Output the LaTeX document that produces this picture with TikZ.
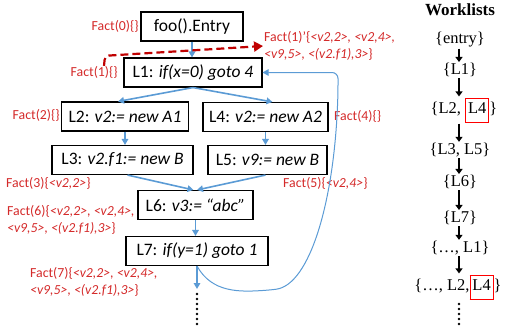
\documentclass[tikz,border=0pt]{standalone}
\usepackage{fontspec}
\setmainfont{Carlito}
\newfontfamily\wlfont{Liberation Serif}
\usetikzlibrary{arrows.meta}
\definecolor{flowblue}{HTML}{5B9BD5}
\definecolor{factred}{HTML}{D42A2A}
\definecolor{dashred}{HTML}{C00000}
\newcommand{\hlbox}[1]{{\setlength{\fboxsep}{2pt}\setlength{\fboxrule}{0.9pt}\fcolorbox{red}{white}{\strut#1}}}

\begin{document}
\begin{tikzpicture}[x=1pt, y=-1pt,
	stmt/.style={draw, line width=1.1pt, minimum height=29pt, inner xsep=3pt, inner ysep=0pt, font=\fontsize{17.5}{20}\selectfont},
	fact/.style={text=factred, inner sep=0pt, align=left, font=\fontsize{13.8}{16.5}\selectfont},
	flow/.style={flowblue, line width=1.6pt, -{Triangle[length=6pt,width=6.5pt]}},
	backflow/.style={flowblue, line width=1pt, rounded corners=6pt, -{Triangle[length=6pt,width=6.5pt]}},
	factdash/.style={dashred, line width=2.2pt, dash pattern=on 8pt off 4pt, rounded corners=4pt, -{Triangle[length=9pt,width=10pt]}},
	wl/.style={inner sep=1pt, font=\wlfont\fontsize{16.5}{19}\selectfont},
	wltitle/.style={inner sep=1pt, font=\wlfont\bfseries\fontsize{17}{19}\selectfont},
	wlarrow/.style={black, line width=1.8pt, -{Triangle[length=5pt,width=7pt]}}]
	\useasboundingbox (0,0) rectangle (505,333);
	% statements
	\node[stmt, minimum width=102pt] (entry) at (192,26.5) {foo().Entry};
	\node[stmt, minimum width=138pt] (L1) at (193,72.5) {L1: \textit{if(x=0) goto 4}};
	\node[stmt, minimum width=127pt] (L2) at (125,116.5) {L2: \textit{v2:= new A1}};
	\node[stmt, minimum width=125pt] (L4) at (265.5,117) {L4: \textit{v2:= new A2}};
	\node[stmt, minimum width=141pt] (L3) at (122.5,160) {L3: \textit{v2.f1:= new B}};
	\node[stmt, minimum width=119pt] (L5) at (267.5,160) {L5: \textit{v9:= new B}};
	\node[stmt, minimum width=115pt] (L6) at (195.5,205) {L6: \textit{v3:= “abc”}};
	\node[stmt, minimum width=142pt] (L7) at (197,251) {L7: \textit{if(y=1) goto 1}};
	% facts
	\node[fact, anchor=east] (f0) at (139,26) {Fact(0)\{\}};
	\node[fact, anchor=east] (f1) at (118,72) {Fact(1)\{\}};
	\node[fact, anchor=west] (f1p) at (264,46) {Fact(1)’\{\textit{<v2,2>, <v2,4>,}\\\textit{<v9,5>, <(v2.f1),3>}\}};
	\node[fact, anchor=east] (f2) at (60,115) {Fact(2)\{\}};
	\node[fact, anchor=west] (f3) at (6,183) {Fact(3)\{\textit{<v2,2>}\}};
	\node[fact, anchor=west] (f4) at (334,116) {Fact(4)\{\}};
	\node[fact, anchor=west] (f5) at (283,183) {Fact(5)\{\textit{<v2,4>}\}};
	\node[fact, anchor=west] (f6) at (7,220) {Fact(6)\{\textit{<v2,2>, <v2,4>,}\\\textit{<v9,5>, <(v2.f1),3>}\}};
	\node[fact, anchor=west] (f7) at (30,282) {Fact(7)\{\textit{<v2,2>, <v2,4>,}\\\textit{<v9,5>, <(v2.f1),3>}\}};
	% control flow
	\draw[flow] (entry.south) -- (entry.south |- L1.north);
	\draw[flow] (L1.south) -- ([xshift=-7pt]L2.north);
	\draw[flow] (L1.south) -- ([xshift=7pt]L4.north);
	\draw[flow] (L2.south) -- (L2.south |- L3.north);
	\draw[flow] (L4.south) -- (L4.south |- L5.north);
	\draw[flow] ([xshift=5pt]L3.south) -- ([xshift=-2pt]L6.north);
	\draw[flow] ([xshift=-2pt]L5.south) -- ([xshift=1.5pt]L6.north);
	\draw[flow] (L6.south) -- (L6.south |- L7.north);
	\coordinate (tail) at (197,289);
	\draw[flow] (L7.south) -- (tail);
	\foreach \i in {0,...,6}
		\fill (197,294+5*\i) circle (1.3pt);
	\draw[backflow] (L7.south) .. controls +(15,27) and +(-30,2) .. (270,290)
		.. controls +(40,-5) and +(-3,110) .. (338,90) |- (L1.east);
	% propagated fact
	\coordinate (dstart) at ([xshift=-14pt]f1.north east);
	\draw[factdash] (dstart) -- ++(1,-10) -- ([xshift=-1pt]f1p.west);
	% worklists
	\coordinate (wx) at (459,0);
	\node[wltitle] (wt) at (460,10) {Worklists};
	\node[wl] (w0) at (460,40) {\{entry\}};
	\node[wl] (w1) at (460,70) {\{L1\}};
	\node[wl] (w2) at (464,110) {\{L2, \hlbox{L4}\}};
	\node[wl] (w3) at (460,150) {\{L3, L5\}};
	\node[wl] (w4) at (460,182) {\{L6\}};
	\node[wl] (w5) at (460,218) {\{L7\}};
	\node[wl] (w6) at (460,248) {\{…, L1\}};
	\node[wl] (w7) at (458,287) {\{…, L2,\hlbox{L4}\}};
	\foreach \a/\b in {w0/w1, w1/w2, w2/w3, w3/w4, w4/w5, w5/w6, w6/w7}
		\draw[wlarrow] (wx |- \a.south) -- (wx |- \b.north);
	\foreach \i in {0,...,4}
		\fill (459,304+5*\i) circle (1.3pt);
\end{tikzpicture}
\end{document}
